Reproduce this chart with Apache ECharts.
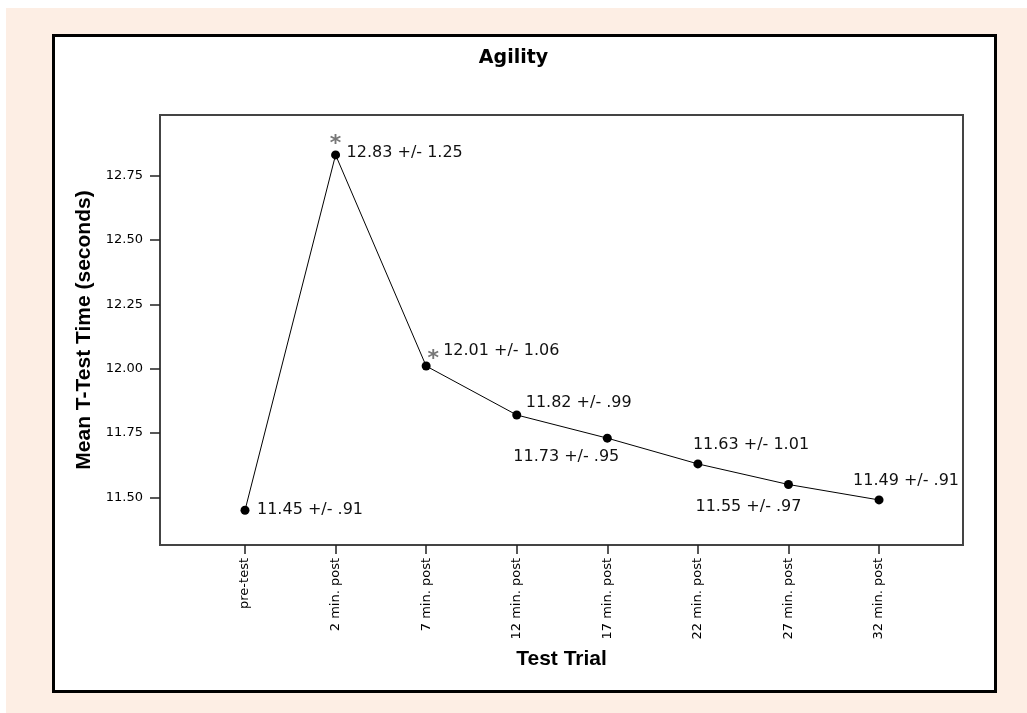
<!DOCTYPE html>
<html>
<head>
<meta charset="utf-8">
<script src="https://cdn.jsdelivr.net/npm/echarts@6/dist/echarts.min.js"></script>
<style>
html,body{margin:0;padding:0;background:#ffffff;}
#bg{position:absolute;left:6px;top:8px;right:0;bottom:0;background:#FDEEE4;}
#chart{position:absolute;left:0;top:0;width:1027px;height:713px;}
</style>
</head>
<body>
<div id="bg"></div>
<div id="chart"></div>
<script>
// ---- data ----
const categories = ['pre-test','2 min. post','7 min. post','12 min. post','17 min. post','22 min. post','27 min. post','32 min. post'];
const meanTimes = [11.45, 12.83, 12.01, 11.82, 11.73, 11.63, 11.55, 11.49];
const sdValues = [0.91, 1.25, 1.06, 0.99, 0.95, 1.01, 0.97, 0.91];
const significant = [false, true, true, false, false, false, false, false];
const yTicks = [11.50, 11.75, 12.00, 12.25, 12.50, 12.75];

// ---- layout (label placement per point: [dx, dy]) ----
const labelOffsets = [[12,0],[11,-2],[17,-15],[9,-12],[-94,19],[-5,-19],[-93,22],[-26,-19]];
const starOffsets = {1:[0,-11], 2:[7,-7]};

function fmtSd(v){
  const s = v.toFixed(2);
  return v < 1 ? s.substring(1) : s;
}

const lineData = meanTimes.map((v,i)=>({
  value:[i, v],
  label:{
    show:true,
    position:'inside',
    align:'left',
    verticalAlign:'middle',
    offset: labelOffsets[i],
    formatter: v.toFixed(2) + ' +/- ' + fmtSd(sdValues[i])
  }
}));

const starData = [];
significant.forEach((s,i)=>{
  if(s){
    starData.push({value:[i, meanTimes[i]], label:{offset: starOffsets[i]}});
  }
});

const chart = echarts.init(document.getElementById('chart'), null, {renderer:'canvas'});
const option = {
  backgroundColor:'transparent',
  animation:false,
  graphic:[{
    type:'rect', z:-10, silent:true,
    shape:{x:53.5, y:35.5, width:942, height:656},
    style:{fill:'#ffffff', stroke:'#000000', lineWidth:3}
  }],
  title:{
    text:'Agility',
    left:'center',
    top:44,
    textStyle:{fontFamily:'DejaVu Sans', fontWeight:'bold', fontSize:19, color:'#000'}
  },
  grid:{
    left:160, right:64, top:115, bottom:168,
    show:true, borderColor:'#444', borderWidth:2, backgroundColor:'transparent',
    containLabel:false, outerBoundsMode:'none'
  },
  xAxis:{
    type:'value',
    min:-0.9385, max:7.927,
    name:'Test Trial',
    nameLocation:'middle',
    nameGap:104,
    nameTextStyle:{fontFamily:'Liberation Sans', fontWeight:'bold', fontSize:21, color:'#000'},
    axisLine:{show:false, onZero:false},
    splitLine:{show:false},
    axisTick:{show:true, length:9, lineStyle:{color:'#222', width:1.5}, customValues:categories.map((c,i)=>i)},
    axisLabel:{
      show:true, rotate:90, margin:13,
      customValues:categories.map((c,i)=>i),
      formatter:(v)=>categories[Math.round(v)],
      fontFamily:'DejaVu Sans', fontSize:13, color:'#000'
    }
  },
  yAxis:{
    type:'value',
    min:11.315, max:12.985,
    name:'Mean T-Test Time (seconds)',
    nameLocation:'middle',
    nameGap:62,
    nameTextStyle:{fontFamily:'Liberation Sans', fontWeight:'bold', fontSize:21, color:'#000'},
    axisLine:{show:false, onZero:false},
    splitLine:{show:false},
    axisTick:{show:true, length:10, lineStyle:{color:'#222', width:1.5}, customValues:yTicks},
    axisLabel:{
      show:true, margin:17,
      customValues:yTicks,
      formatter:(v)=>v.toFixed(2),
      fontFamily:'DejaVu Sans', fontSize:13, color:'#000'
    }
  },
  series:[
    {
      type:'line',
      data:lineData,
      symbol:'circle',
      symbolSize:9,
      lineStyle:{color:'#000', width:1},
      itemStyle:{color:'#000'},
      label:{fontFamily:'DejaVu Sans', fontSize:16, color:'#111'},
      z:3
    },
    {
      type:'scatter',
      data:starData,
      symbol:'circle',
      symbolSize:2,
      itemStyle:{color:'rgba(0,0,0,0)'},
      label:{
        show:true, position:'inside', align:'center', verticalAlign:'middle',
        formatter:'*', fontFamily:'DejaVu Sans', fontWeight:'bold', fontSize:22, color:'#555'
      },
      z:4
    }
  ]
};
chart.setOption(option);
</script>
</body>
</html>
